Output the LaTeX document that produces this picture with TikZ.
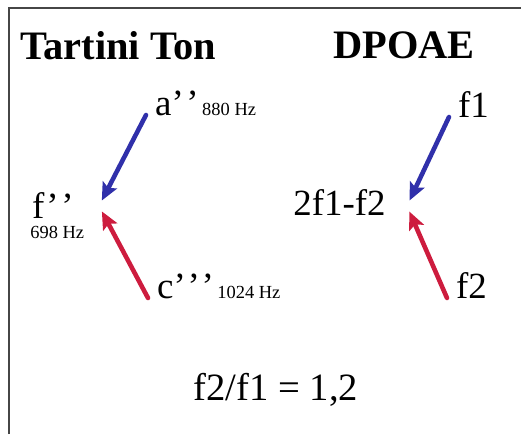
\documentclass[tikz,border=0pt]{standalone}
\usepackage{fontspec}
\setmainfont{Liberation Serif}
\usepackage{tikz}
\usetikzlibrary{arrows.meta}
\usepackage{xcolor}
\definecolor{toneblue}{RGB}{48,48,170}
\definecolor{tonered}{RGB}{205,28,62}
\definecolor{framegray}{RGB}{70,70,70}
\newcommand{\hzsize}{\fontsize{10.5}{12}\selectfont}

\begin{document}
\begin{tikzpicture}[x=0.02cm, y=-0.02cm,
    title/.style={anchor=base west, inner sep=0pt, font=\fontsize{23}{27}\selectfont\bfseries},
    lbl/.style={anchor=base west, inner xsep=5pt, inner ysep=0pt, font=\fontsize{21}{25}\selectfont},
    hz/.style={anchor=base west, inner sep=0pt, font=\hzsize},
    tone/.style={line width=2.6pt, line cap=round, shorten >=3.5pt, -{Stealth[length=10pt,width=9pt,inset=2pt]}}]
  \useasboundingbox (0,0) rectangle (521,434);
  % frame, only top and left edge
  \draw[framegray, line width=1.4pt] (9,434) -- (9,8) -- (521,8);

  \node[title] (t) at (20,59) {Tartini Ton};
  \node[title] (d) at (333,58) {DPOAE};

  % Tartini side
  \node[lbl] (a) at (146,115) {a’\kern1.5pt’\kern2pt{\hzsize 880 Hz}};
  \node[lbl] (f) at (23,218) {f’\kern1.5pt’};
  \node[hz] (fhz) at (30,238) {698 Hz};
  \node[lbl] (c) at (148,298) {c’\kern1pt’\kern1pt’\kern2pt{\hzsize 1024 Hz}};
  \coordinate (tt) at (99,206);
  \draw[tone, toneblue] (a.base west) -- (tt);
  \draw[tone, tonered] (c.base west) -- (tt);

  % DPOAE side
  \node[lbl] (f1) at (449,117) {f1};
  \node[lbl] (f2) at (447,298) {f2};
  \node[lbl, inner xsep=0pt] (p) at (293,215) {2f1-f2};
  \coordinate (dt) at (407,206);
  \draw[tone, toneblue] (f1.base west) -- (dt);
  \draw[tone, tonered] (f2.base west) -- (dt);

  \node[lbl, inner xsep=0pt, anchor=base, font=\fontsize{22}{26}\selectfont] (r) at (276,400) {f2/f1 = 1,2};
\end{tikzpicture}
\end{document}
